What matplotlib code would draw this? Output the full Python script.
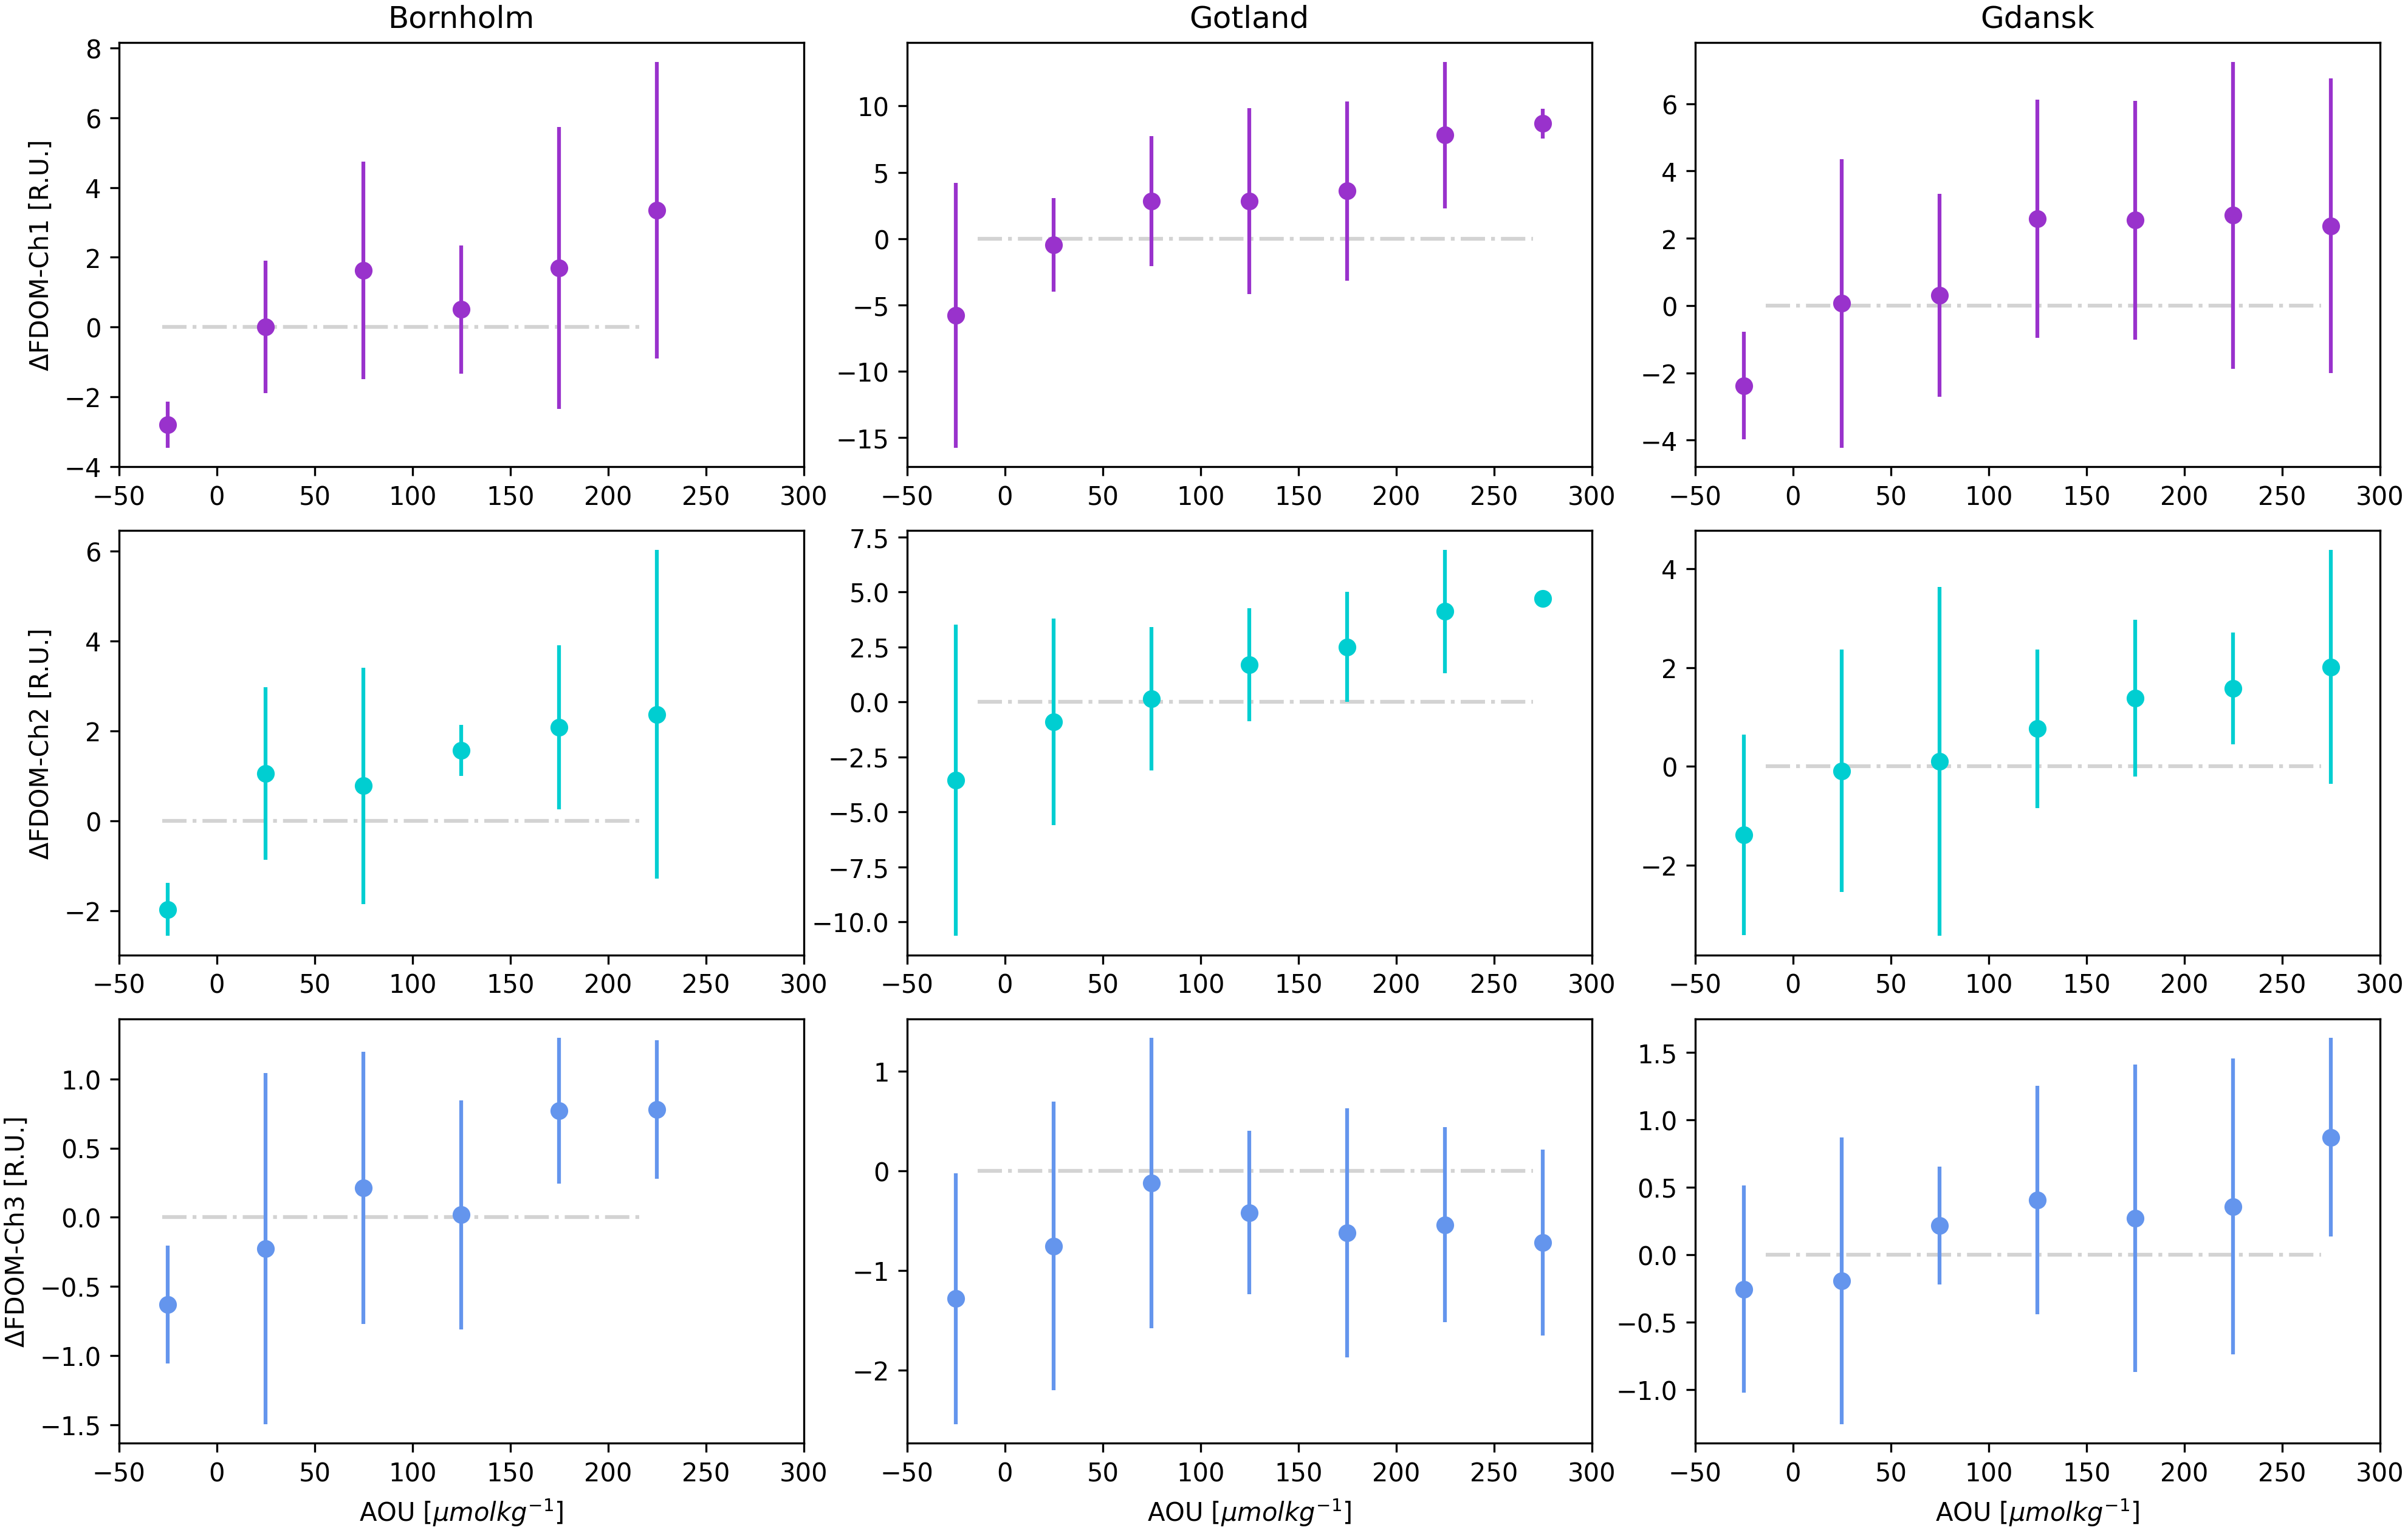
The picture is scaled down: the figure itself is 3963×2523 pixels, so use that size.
import numpy as np
import matplotlib
matplotlib.use('Agg')
import matplotlib.pyplot as plt

# 站点和通道
stations = ['Bornholm', 'Gotland', 'Gdansk']
channels = ['Ch1', 'Ch2', 'Ch3']
colors = ['darkorchid', 'darkturquoise', 'cornflowerblue']

# AOU 分箱中心
aou_bornholm = [-25, 25, 75, 125, 175, 225]
aou_gotland = [-25, 25, 75, 125, 175, 225, 275]
aou_gdansk = [-25, 25, 75, 125, 175, 225, 275]

# 零线范围
zero_start = [-28, -14, -14]
zero_end = [218, 270, 270]

# Ch1 均值和标准差
born_ch1 = [-2.80, 0.0, 1.63, 0.50, 1.69, 3.35]
born_ch1_err = [0.66, 1.90, 3.12, 1.84, 4.04, 4.26]
got_ch1 = [-5.77, -0.47, 2.83, 2.81, 3.60, 7.80, 8.67]
got_ch1_err = [9.99, 3.51, 4.92, 7.01, 6.76, 5.54, 1.13]
gda_ch1 = [-2.38, 0.07, 0.31, 2.59, 2.54, 2.69, 2.37]
gda_ch1_err = [1.60, 4.29, 3.02, 3.54, 3.55, 4.56, 4.38]

# Ch2
born_ch2 = [-1.97, 1.05, 0.78, 1.57, 2.08, 2.37]
born_ch2_err = [0.59, 1.92, 2.63, 0.57, 1.82, 3.66]
got_ch2 = [-3.56, -0.89, 0.15, 1.69, 2.50, 4.12, 4.71]
got_ch2_err = [7.07, 4.70, 3.25, 2.57, 2.50, 2.80, 0.0]
gda_ch2 = [-1.39, -0.09, 0.10, 0.76, 1.38, 1.58, 2.01]
gda_ch2_err = [2.03, 2.45, 3.53, 1.60, 1.59, 1.13, 2.37]

# Ch3
born_ch3 = [-0.632, -0.226, 0.213, 0.017, 0.769, 0.779]
born_ch3_err = [0.425, 1.27, 0.985, 0.83, 0.527, 0.50]
got_ch3 = [-1.283, -0.753, -0.124, -0.420, -0.623, -0.540, -0.719]
got_ch3_err = [1.257, 1.45, 1.457, 0.82, 1.25, 0.98, 0.935]
gda_ch3 = [-0.254, -0.193, 0.218, 0.406, 0.271, 0.358, 0.870]
gda_ch3_err = [0.767, 1.06, 0.436, 0.847, 1.137, 1.094, 0.735]

aou = [aou_bornholm, aou_gotland, aou_gdansk]
means = [[born_ch1, got_ch1, gda_ch1],
         [born_ch2, got_ch2, gda_ch2],
         [born_ch3, got_ch3, gda_ch3]]
errs = [[born_ch1_err, got_ch1_err, gda_ch1_err],
        [born_ch2_err, got_ch2_err, gda_ch2_err],
        [born_ch3_err, got_ch3_err, gda_ch3_err]]

fig, axes = plt.subplots(3, 3, figsize=(13.213, 8.413))
fig.subplots_adjust(left=0.0494, right=0.9881, top=0.972, bottom=0.0585,
                    wspace=0.151, hspace=0.150)

for i in range(3):
    for j in range(3):
        ax = axes[i, j]
        ax.hlines(0, zero_start[j], zero_end[j], colors='lightgrey',
                  linestyles='-.', linewidth=1.5, zorder=1)
        ax.errorbar(aou[j], means[i][j], yerr=errs[i][j], fmt='o',
                    color=colors[i], zorder=2)
        ax.set_xlim(-50, 300)
        ax.set_xticks(np.arange(-50, 301, 50))
        if i == 0:
            ax.set_title(stations[j])
        if j == 0:
            ax.set_ylabel('ΔFDOM-' + channels[i] + ' [R.U.]')
        if i == 2:
            ax.set_xlabel(r'AOU [$\mu mol kg^{-1}$]')

fig.savefig('out.png', dpi=300)
